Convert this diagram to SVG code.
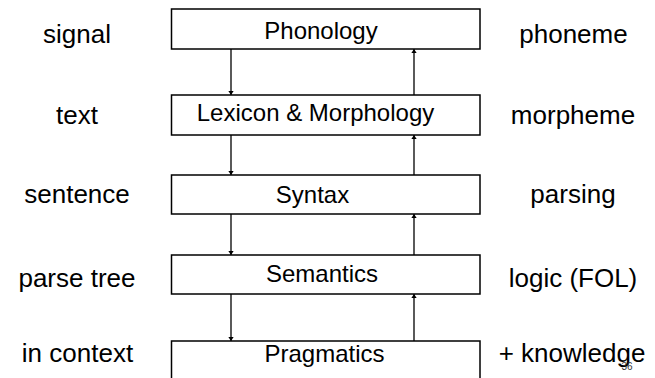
<svg xmlns="http://www.w3.org/2000/svg" width="655" height="378" viewBox="0 0 655 378">
<defs>
<marker id="ah" viewBox="0 0 6 8" refX="6" refY="4" markerWidth="4" markerHeight="5.3" orient="auto" markerUnits="userSpaceOnUse">
<path d="M0,0 L6,4 L0,8 z" fill="#000"/>
</marker>
<style>
.box{fill:#fff;stroke:#000;stroke-width:1.5}
.bt{font-family:"Liberation Sans",Arial,sans-serif;font-size:24px;fill:#000;text-anchor:middle}
.side{font-family:"Liberation Sans",Arial,sans-serif;font-size:26px;fill:#000;text-anchor:middle}
.arr{stroke:#000;stroke-width:1.3;fill:none;marker-end:url(#ah)}
.pg{font-family:"Liberation Sans",Arial,sans-serif;font-size:10px;fill:#333;text-anchor:middle}
</style>
</defs>
<rect width="655" height="378" fill="#fff"/>
<g id="connectors">
<line class="arr" x1="231" y1="49" x2="231" y2="95"/>
<line class="arr" x1="414" y1="95" x2="414" y2="49"/>
<line class="arr" x1="231" y1="135" x2="231" y2="175"/>
<line class="arr" x1="414" y1="175" x2="414" y2="135"/>
<line class="arr" x1="231" y1="214" x2="231" y2="255"/>
<line class="arr" x1="414" y1="255" x2="414" y2="214"/>
<line class="arr" x1="231" y1="294" x2="231" y2="341"/>
<line class="arr" x1="414" y1="341" x2="414" y2="294"/>
</g>
<g id="phonology"><rect class="box" x="171.5" y="9" width="308.5" height="40"/><text class="bt" x="321" y="38.5">Phonology</text></g>
<g id="lexicon"><rect class="box" x="171.5" y="95" width="308.5" height="40"/><text class="bt" x="315.5" y="121">Lexicon &amp; Morphology</text></g>
<g id="syntax"><rect class="box" x="171.5" y="175" width="308.5" height="39"/><text class="bt" x="312.5" y="202.5">Syntax</text></g>
<g id="semantics"><rect class="box" x="171.5" y="255" width="308.5" height="39"/><text class="bt" x="322" y="282">Semantics</text></g>
<g id="pragmatics"><rect class="box" x="171.5" y="341" width="308.5" height="45"/><text class="bt" x="324.5" y="362">Pragmatics</text></g>
<g id="left-labels">
<text class="side" x="77" y="43">signal</text>
<text class="side" x="77" y="124">text</text>
<text class="side" x="77" y="203">sentence</text>
<text class="side" x="77" y="287">parse tree</text>
<text class="side" x="77.5" y="362">in context</text>
</g>
<g id="right-labels">
<text class="side" x="573.5" y="43">phoneme</text>
<text class="side" x="573" y="124">morpheme</text>
<text class="side" x="573" y="203">parsing</text>
<text class="side" x="573" y="287">logic (FOL)</text>
<text class="side" x="572" y="362">+ knowledge</text>
</g>
<text class="pg" x="627" y="370">36</text>
</svg>
